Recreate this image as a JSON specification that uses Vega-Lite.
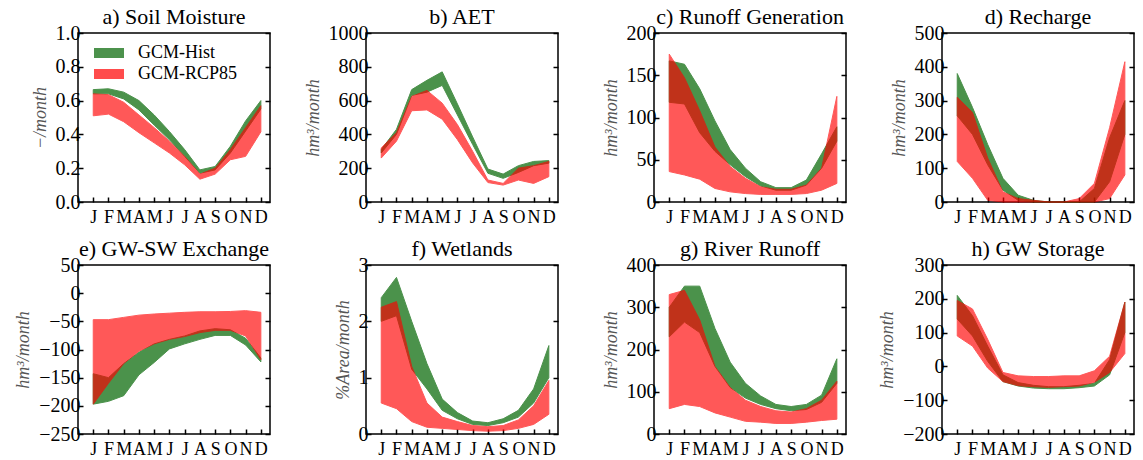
{
"$schema":"https://vega.github.io/schema/vega-lite/v6.json",
"autosize":{"type":"pad"},
"padding":{"left":13,"top":5,"right":0,"bottom":0},
"background":"white",
"bounds":"flush",
"columns":4,
"spacing":{"row":63,"column":96},
"resolve":{"scale":{"color":"independent"},"legend":{"color":"independent"}},
"config":{
 "font":"Liberation Serif",
 "view":{"stroke":"black","strokeWidth":1.5},
 "title":{"font":"Liberation Serif","fontSize":22,"fontWeight":"normal","color":"black","offset":-6,"frame":"group","anchor":"middle"},
 "axis":{"grid":false,"domain":false,"tickColor":"black","tickWidth":1.5,"tickSize":-5,"labelFont":"Liberation Serif","labelColor":"black","titleFont":"Liberation Serif","titleFontStyle":"italic","titleFontWeight":"normal","titleFontSize":18,"titleColor":"#555555","titlePadding":6},
 "axisX":{"labelFontSize":18,"labelPadding":11,"labelOverlap":false},
 "axisY":{"labelFontSize":20,"labelPadding":3},
 "legend":{"labelFont":"Liberation Serif","labelFontSize":18,"labelColor":"black"}
},
"data":{"values":[
{"p":"a","s":"GCM-Hist","m":1,"hi":0.665,"lo":0.64},{"p":"a","s":"GCM-Hist","m":2,"hi":0.67,"lo":0.64},{"p":"a","s":"GCM-Hist","m":3,"hi":0.65,"lo":0.61},{"p":"a","s":"GCM-Hist","m":4,"hi":0.6,"lo":0.545},{"p":"a","s":"GCM-Hist","m":5,"hi":0.515,"lo":0.455},{"p":"a","s":"GCM-Hist","m":6,"hi":0.417,"lo":0.368},{"p":"a","s":"GCM-Hist","m":7,"hi":0.31,"lo":0.27},{"p":"a","s":"GCM-Hist","m":8,"hi":0.19,"lo":0.17},{"p":"a","s":"GCM-Hist","m":9,"hi":0.21,"lo":0.19},{"p":"a","s":"GCM-Hist","m":10,"hi":0.33,"lo":0.29},{"p":"a","s":"GCM-Hist","m":11,"hi":0.48,"lo":0.42},{"p":"a","s":"GCM-Hist","m":12,"hi":0.6,"lo":0.55},
{"p":"a","s":"GCM-RCP85","m":1,"hi":0.64,"lo":0.51},{"p":"a","s":"GCM-RCP85","m":2,"hi":0.635,"lo":0.52},{"p":"a","s":"GCM-RCP85","m":3,"hi":0.59,"lo":0.475},{"p":"a","s":"GCM-RCP85","m":4,"hi":0.515,"lo":0.41},{"p":"a","s":"GCM-RCP85","m":5,"hi":0.44,"lo":0.35},{"p":"a","s":"GCM-RCP85","m":6,"hi":0.36,"lo":0.29},{"p":"a","s":"GCM-RCP85","m":7,"hi":0.27,"lo":0.22},{"p":"a","s":"GCM-RCP85","m":8,"hi":0.165,"lo":0.135},{"p":"a","s":"GCM-RCP85","m":9,"hi":0.2,"lo":0.165},{"p":"a","s":"GCM-RCP85","m":10,"hi":0.31,"lo":0.25},{"p":"a","s":"GCM-RCP85","m":11,"hi":0.44,"lo":0.27},{"p":"a","s":"GCM-RCP85","m":12,"hi":0.57,"lo":0.415},
{"p":"b","s":"GCM-Hist","m":1,"hi":310,"lo":290},{"p":"b","s":"GCM-Hist","m":2,"hi":430,"lo":400},{"p":"b","s":"GCM-Hist","m":3,"hi":665,"lo":630},{"p":"b","s":"GCM-Hist","m":4,"hi":720,"lo":650},{"p":"b","s":"GCM-Hist","m":5,"hi":770,"lo":690},{"p":"b","s":"GCM-Hist","m":6,"hi":580,"lo":515},{"p":"b","s":"GCM-Hist","m":7,"hi":385,"lo":340},{"p":"b","s":"GCM-Hist","m":8,"hi":195,"lo":170},{"p":"b","s":"GCM-Hist","m":9,"hi":165,"lo":140},{"p":"b","s":"GCM-Hist","m":10,"hi":215,"lo":175},{"p":"b","s":"GCM-Hist","m":11,"hi":240,"lo":215},{"p":"b","s":"GCM-Hist","m":12,"hi":245,"lo":230},
{"p":"b","s":"GCM-RCP85","m":1,"hi":320,"lo":260},{"p":"b","s":"GCM-RCP85","m":2,"hi":410,"lo":360},{"p":"b","s":"GCM-RCP85","m":3,"hi":625,"lo":540},{"p":"b","s":"GCM-RCP85","m":4,"hi":660,"lo":545},{"p":"b","s":"GCM-RCP85","m":5,"hi":585,"lo":490},{"p":"b","s":"GCM-RCP85","m":6,"hi":458,"lo":369},{"p":"b","s":"GCM-RCP85","m":7,"hi":300,"lo":231},{"p":"b","s":"GCM-RCP85","m":8,"hi":130,"lo":115},{"p":"b","s":"GCM-RCP85","m":9,"hi":110,"lo":100},{"p":"b","s":"GCM-RCP85","m":10,"hi":200,"lo":130},{"p":"b","s":"GCM-RCP85","m":11,"hi":215,"lo":110},{"p":"b","s":"GCM-RCP85","m":12,"hi":240,"lo":150},
{"p":"c","s":"GCM-Hist","m":1,"hi":167,"lo":118},{"p":"c","s":"GCM-Hist","m":2,"hi":163,"lo":116},{"p":"c","s":"GCM-Hist","m":3,"hi":134,"lo":82},{"p":"c","s":"GCM-Hist","m":4,"hi":96,"lo":60},{"p":"c","s":"GCM-Hist","m":5,"hi":62,"lo":44},{"p":"c","s":"GCM-Hist","m":6,"hi":40,"lo":30},{"p":"c","s":"GCM-Hist","m":7,"hi":24,"lo":19},{"p":"c","s":"GCM-Hist","m":8,"hi":17,"lo":14},{"p":"c","s":"GCM-Hist","m":9,"hi":17,"lo":14},{"p":"c","s":"GCM-Hist","m":10,"hi":26,"lo":20},{"p":"c","s":"GCM-Hist","m":11,"hi":57,"lo":40},{"p":"c","s":"GCM-Hist","m":12,"hi":89,"lo":72},
{"p":"c","s":"GCM-RCP85","m":1,"hi":175,"lo":36},{"p":"c","s":"GCM-RCP85","m":2,"hi":147,"lo":32},{"p":"c","s":"GCM-RCP85","m":3,"hi":108,"lo":27},{"p":"c","s":"GCM-RCP85","m":4,"hi":65,"lo":16},{"p":"c","s":"GCM-RCP85","m":5,"hi":42,"lo":12},{"p":"c","s":"GCM-RCP85","m":6,"hi":28,"lo":10},{"p":"c","s":"GCM-RCP85","m":7,"hi":18,"lo":9},{"p":"c","s":"GCM-RCP85","m":8,"hi":15,"lo":9},{"p":"c","s":"GCM-RCP85","m":9,"hi":15,"lo":9},{"p":"c","s":"GCM-RCP85","m":10,"hi":20,"lo":10},{"p":"c","s":"GCM-RCP85","m":11,"hi":40,"lo":14},{"p":"c","s":"GCM-RCP85","m":12,"hi":125,"lo":22},
{"p":"d","s":"GCM-Hist","m":1,"hi":380,"lo":255},{"p":"d","s":"GCM-Hist","m":2,"hi":280,"lo":200},{"p":"d","s":"GCM-Hist","m":3,"hi":170,"lo":110},{"p":"d","s":"GCM-Hist","m":4,"hi":70,"lo":35},{"p":"d","s":"GCM-Hist","m":5,"hi":20,"lo":5},{"p":"d","s":"GCM-Hist","m":6,"hi":5,"lo":0},{"p":"d","s":"GCM-Hist","m":7,"hi":0,"lo":0},{"p":"d","s":"GCM-Hist","m":8,"hi":0,"lo":0},{"p":"d","s":"GCM-Hist","m":9,"hi":0,"lo":0},{"p":"d","s":"GCM-Hist","m":10,"hi":40,"lo":0},{"p":"d","s":"GCM-Hist","m":11,"hi":190,"lo":60},{"p":"d","s":"GCM-Hist","m":12,"hi":300,"lo":200},
{"p":"d","s":"GCM-RCP85","m":1,"hi":310,"lo":120},{"p":"d","s":"GCM-RCP85","m":2,"hi":265,"lo":70},{"p":"d","s":"GCM-RCP85","m":3,"hi":130,"lo":5},{"p":"d","s":"GCM-RCP85","m":4,"hi":30,"lo":0},{"p":"d","s":"GCM-RCP85","m":5,"hi":10,"lo":0},{"p":"d","s":"GCM-RCP85","m":6,"hi":5,"lo":0},{"p":"d","s":"GCM-RCP85","m":7,"hi":0,"lo":0},{"p":"d","s":"GCM-RCP85","m":8,"hi":0,"lo":0},{"p":"d","s":"GCM-RCP85","m":9,"hi":10,"lo":0},{"p":"d","s":"GCM-RCP85","m":10,"hi":55,"lo":0},{"p":"d","s":"GCM-RCP85","m":11,"hi":220,"lo":10},{"p":"d","s":"GCM-RCP85","m":12,"hi":415,"lo":80},
{"p":"e","s":"GCM-Hist","m":1,"hi":-143,"lo":-197},{"p":"e","s":"GCM-Hist","m":2,"hi":-150,"lo":-192},{"p":"e","s":"GCM-Hist","m":3,"hi":-125,"lo":-182},{"p":"e","s":"GCM-Hist","m":4,"hi":-105,"lo":-145},{"p":"e","s":"GCM-Hist","m":5,"hi":-90,"lo":-123},{"p":"e","s":"GCM-Hist","m":6,"hi":-82,"lo":-99},{"p":"e","s":"GCM-Hist","m":7,"hi":-76,"lo":-90},{"p":"e","s":"GCM-Hist","m":8,"hi":-67,"lo":-82},{"p":"e","s":"GCM-Hist","m":9,"hi":-63,"lo":-75},{"p":"e","s":"GCM-Hist","m":10,"hi":-65,"lo":-75},{"p":"e","s":"GCM-Hist","m":11,"hi":-80,"lo":-92},{"p":"e","s":"GCM-Hist","m":12,"hi":-115,"lo":-122},
{"p":"e","s":"GCM-RCP85","m":1,"hi":-47,"lo":-197},{"p":"e","s":"GCM-RCP85","m":2,"hi":-47,"lo":-160},{"p":"e","s":"GCM-RCP85","m":3,"hi":-43,"lo":-125},{"p":"e","s":"GCM-RCP85","m":4,"hi":-39,"lo":-103},{"p":"e","s":"GCM-RCP85","m":5,"hi":-37,"lo":-90},{"p":"e","s":"GCM-RCP85","m":6,"hi":-35.5,"lo":-82},{"p":"e","s":"GCM-RCP85","m":7,"hi":-34,"lo":-77},{"p":"e","s":"GCM-RCP85","m":8,"hi":-33,"lo":-70},{"p":"e","s":"GCM-RCP85","m":9,"hi":-33,"lo":-66},{"p":"e","s":"GCM-RCP85","m":10,"hi":-32.5,"lo":-66},{"p":"e","s":"GCM-RCP85","m":11,"hi":-31,"lo":-76},{"p":"e","s":"GCM-RCP85","m":12,"hi":-34,"lo":-118},
{"p":"f","s":"GCM-Hist","m":1,"hi":2.42,"lo":2.0},{"p":"f","s":"GCM-Hist","m":2,"hi":2.78,"lo":2.1},{"p":"f","s":"GCM-Hist","m":3,"hi":2.0,"lo":1.15},{"p":"f","s":"GCM-Hist","m":4,"hi":1.25,"lo":0.8},{"p":"f","s":"GCM-Hist","m":5,"hi":0.62,"lo":0.42},{"p":"f","s":"GCM-Hist","m":6,"hi":0.38,"lo":0.27},{"p":"f","s":"GCM-Hist","m":7,"hi":0.23,"lo":0.17},{"p":"f","s":"GCM-Hist","m":8,"hi":0.2,"lo":0.15},{"p":"f","s":"GCM-Hist","m":9,"hi":0.27,"lo":0.2},{"p":"f","s":"GCM-Hist","m":10,"hi":0.42,"lo":0.3},{"p":"f","s":"GCM-Hist","m":11,"hi":0.8,"lo":0.55},{"p":"f","s":"GCM-Hist","m":12,"hi":1.57,"lo":1.0},
{"p":"f","s":"GCM-RCP85","m":1,"hi":2.25,"lo":0.55},{"p":"f","s":"GCM-RCP85","m":2,"hi":2.35,"lo":0.45},{"p":"f","s":"GCM-RCP85","m":3,"hi":1.2,"lo":0.22},{"p":"f","s":"GCM-RCP85","m":4,"hi":0.55,"lo":0.12},{"p":"f","s":"GCM-RCP85","m":5,"hi":0.3,"lo":0.1},{"p":"f","s":"GCM-RCP85","m":6,"hi":0.22,"lo":0.08},{"p":"f","s":"GCM-RCP85","m":7,"hi":0.15,"lo":0.06},{"p":"f","s":"GCM-RCP85","m":8,"hi":0.13,"lo":0.05},{"p":"f","s":"GCM-RCP85","m":9,"hi":0.15,"lo":0.06},{"p":"f","s":"GCM-RCP85","m":10,"hi":0.25,"lo":0.1},{"p":"f","s":"GCM-RCP85","m":11,"hi":0.5,"lo":0.17},{"p":"f","s":"GCM-RCP85","m":12,"hi":0.95,"lo":0.35},
{"p":"g","s":"GCM-Hist","m":1,"hi":300,"lo":230},{"p":"g","s":"GCM-Hist","m":2,"hi":350,"lo":265},{"p":"g","s":"GCM-Hist","m":3,"hi":350,"lo":240},{"p":"g","s":"GCM-Hist","m":4,"hi":250,"lo":160},{"p":"g","s":"GCM-Hist","m":5,"hi":170,"lo":110},{"p":"g","s":"GCM-Hist","m":6,"hi":120,"lo":85},{"p":"g","s":"GCM-Hist","m":7,"hi":90,"lo":70},{"p":"g","s":"GCM-Hist","m":8,"hi":70,"lo":60},{"p":"g","s":"GCM-Hist","m":9,"hi":65,"lo":55},{"p":"g","s":"GCM-Hist","m":10,"hi":70,"lo":58},{"p":"g","s":"GCM-Hist","m":11,"hi":92,"lo":75},{"p":"g","s":"GCM-Hist","m":12,"hi":178,"lo":120},
{"p":"g","s":"GCM-RCP85","m":1,"hi":330,"lo":60},{"p":"g","s":"GCM-RCP85","m":2,"hi":340,"lo":70},{"p":"g","s":"GCM-RCP85","m":3,"hi":270,"lo":65},{"p":"g","s":"GCM-RCP85","m":4,"hi":160,"lo":50},{"p":"g","s":"GCM-RCP85","m":5,"hi":110,"lo":40},{"p":"g","s":"GCM-RCP85","m":6,"hi":80,"lo":30},{"p":"g","s":"GCM-RCP85","m":7,"hi":65,"lo":28},{"p":"g","s":"GCM-RCP85","m":8,"hi":55,"lo":25},{"p":"g","s":"GCM-RCP85","m":9,"hi":52,"lo":25},{"p":"g","s":"GCM-RCP85","m":10,"hi":60,"lo":28},{"p":"g","s":"GCM-RCP85","m":11,"hi":80,"lo":32},{"p":"g","s":"GCM-RCP85","m":12,"hi":125,"lo":35},
{"p":"h","s":"GCM-Hist","m":1,"hi":210,"lo":140},{"p":"h","s":"GCM-Hist","m":2,"hi":150,"lo":90},{"p":"h","s":"GCM-Hist","m":3,"hi":60,"lo":15},{"p":"h","s":"GCM-Hist","m":4,"hi":-25,"lo":-45},{"p":"h","s":"GCM-Hist","m":5,"hi":-48,"lo":-58},{"p":"h","s":"GCM-Hist","m":6,"hi":-56,"lo":-64},{"p":"h","s":"GCM-Hist","m":7,"hi":-60,"lo":-66},{"p":"h","s":"GCM-Hist","m":8,"hi":-60,"lo":-66},{"p":"h","s":"GCM-Hist","m":9,"hi":-56,"lo":-63},{"p":"h","s":"GCM-Hist","m":10,"hi":-50,"lo":-58},{"p":"h","s":"GCM-Hist","m":11,"hi":20,"lo":-25},{"p":"h","s":"GCM-Hist","m":12,"hi":190,"lo":100},
{"p":"h","s":"GCM-RCP85","m":1,"hi":195,"lo":90},{"p":"h","s":"GCM-RCP85","m":2,"hi":170,"lo":60},{"p":"h","s":"GCM-RCP85","m":3,"hi":80,"lo":-5},{"p":"h","s":"GCM-RCP85","m":4,"hi":-18,"lo":-45},{"p":"h","s":"GCM-RCP85","m":5,"hi":-28,"lo":-57},{"p":"h","s":"GCM-RCP85","m":6,"hi":-30,"lo":-60},{"p":"h","s":"GCM-RCP85","m":7,"hi":-30,"lo":-62},{"p":"h","s":"GCM-RCP85","m":8,"hi":-28,"lo":-60},{"p":"h","s":"GCM-RCP85","m":9,"hi":-28,"lo":-58},{"p":"h","s":"GCM-RCP85","m":10,"hi":-13,"lo":-47},{"p":"h","s":"GCM-RCP85","m":11,"hi":30,"lo":-18},{"p":"h","s":"GCM-RCP85","m":12,"hi":190,"lo":38}
]},
"concat":[
{"width":192,"height":169,"title":"a) Soil Moisture","transform":[{"filter":"datum.p=='a'"}],"resolve":{"axis":{"y":"independent"}},
 "encoding":{"x":{"field":"m","type":"quantitative","scale":{"domain":[0,12.6]},"axis":{"values":[1,2,3,4,5,6,7,8,9,10,11,12],"labelExpr":"['J','F','M','A','M','J','J','A','S','O','N','D'][datum.value-1]","title":null}},
  "y2":{"field":"lo"},
  "color":{"field":"s","type":"nominal","scale":{"domain":["GCM-Hist","GCM-RCP85"],"range":["#006400","#ff0000"]},"legend":{"orient":"none","legendX":22,"legendY":11,"title":null,"padding":0,"symbolType":"M-3,-1H3V1H-3Z","symbolSize":100,"labelOffset":20,"rowPadding":3,"symbolStrokeWidth":0}}},
 "layer":[
  {"transform":[{"filter":"datum.s=='GCM-Hist'"}],"mark":{"type":"area","opacity":0.7,"stroke":"#006400","strokeWidth":1},"encoding":{"y":{"field":"hi","type":"quantitative","scale":{"domain":[0,1],"nice":false,"zero":false},"axis":{"orient":"left","values":[0,0.2,0.4,0.6,0.8,1.0],"format":".1f","title":"−/month"}}}},
  {"transform":[{"filter":"datum.s=='GCM-RCP85'"}],"mark":{"type":"area","opacity":0.65,"stroke":"#ff0000","strokeWidth":1},"encoding":{"y":{"field":"hi","type":"quantitative","scale":{"domain":[0,1],"nice":false,"zero":false},"axis":{"orient":"right","values":[0,0.2,0.4,0.6,0.8,1.0],"labels":false,"title":null}}}}
 ]},
{"width":192,"height":169,"title":"b) AET","transform":[{"filter":"datum.p=='b'"}],"resolve":{"axis":{"y":"independent"}},
 "encoding":{"x":{"field":"m","type":"quantitative","scale":{"domain":[0,12.6]},"axis":{"values":[1,2,3,4,5,6,7,8,9,10,11,12],"labelExpr":"['J','F','M','A','M','J','J','A','S','O','N','D'][datum.value-1]","title":null}},
  "y2":{"field":"lo"},
  "color":{"field":"s","type":"nominal","scale":{"domain":["GCM-Hist","GCM-RCP85"],"range":["#006400","#ff0000"]},"legend":null}},
 "layer":[
  {"transform":[{"filter":"datum.s=='GCM-Hist'"}],"mark":{"type":"area","opacity":0.7,"stroke":"#006400","strokeWidth":1},"encoding":{"y":{"field":"hi","type":"quantitative","scale":{"domain":[0,1000],"nice":false,"zero":false},"axis":{"orient":"left","values":[0,200,400,600,800,1000],"format":"d","title":"hm³/month"}}}},
  {"transform":[{"filter":"datum.s=='GCM-RCP85'"}],"mark":{"type":"area","opacity":0.65,"stroke":"#ff0000","strokeWidth":1},"encoding":{"y":{"field":"hi","type":"quantitative","scale":{"domain":[0,1000],"nice":false,"zero":false},"axis":{"orient":"right","values":[0,200,400,600,800,1000],"labels":false,"title":null}}}}
 ]},
{"width":192,"height":169,"title":"c) Runoff Generation","transform":[{"filter":"datum.p=='c'"}],"resolve":{"axis":{"y":"independent"}},
 "encoding":{"x":{"field":"m","type":"quantitative","scale":{"domain":[0,12.6]},"axis":{"values":[1,2,3,4,5,6,7,8,9,10,11,12],"labelExpr":"['J','F','M','A','M','J','J','A','S','O','N','D'][datum.value-1]","title":null}},
  "y2":{"field":"lo"},
  "color":{"field":"s","type":"nominal","scale":{"domain":["GCM-Hist","GCM-RCP85"],"range":["#006400","#ff0000"]},"legend":null}},
 "layer":[
  {"transform":[{"filter":"datum.s=='GCM-Hist'"}],"mark":{"type":"area","opacity":0.7,"stroke":"#006400","strokeWidth":1},"encoding":{"y":{"field":"hi","type":"quantitative","scale":{"domain":[0,200],"nice":false,"zero":false},"axis":{"orient":"left","values":[0,50,100,150,200],"format":"d","title":"hm³/month"}}}},
  {"transform":[{"filter":"datum.s=='GCM-RCP85'"}],"mark":{"type":"area","opacity":0.65,"stroke":"#ff0000","strokeWidth":1},"encoding":{"y":{"field":"hi","type":"quantitative","scale":{"domain":[0,200],"nice":false,"zero":false},"axis":{"orient":"right","values":[0,50,100,150,200],"labels":false,"title":null}}}}
 ]},
{"width":192,"height":169,"title":"d) Recharge","transform":[{"filter":"datum.p=='d'"}],"resolve":{"axis":{"y":"independent"}},
 "encoding":{"x":{"field":"m","type":"quantitative","scale":{"domain":[0,12.6]},"axis":{"values":[1,2,3,4,5,6,7,8,9,10,11,12],"labelExpr":"['J','F','M','A','M','J','J','A','S','O','N','D'][datum.value-1]","title":null}},
  "y2":{"field":"lo"},
  "color":{"field":"s","type":"nominal","scale":{"domain":["GCM-Hist","GCM-RCP85"],"range":["#006400","#ff0000"]},"legend":null}},
 "layer":[
  {"transform":[{"filter":"datum.s=='GCM-Hist'"}],"mark":{"type":"area","opacity":0.7,"stroke":"#006400","strokeWidth":1},"encoding":{"y":{"field":"hi","type":"quantitative","scale":{"domain":[0,500],"nice":false,"zero":false},"axis":{"orient":"left","values":[0,100,200,300,400,500],"format":"d","title":"hm³/month"}}}},
  {"transform":[{"filter":"datum.s=='GCM-RCP85'"}],"mark":{"type":"area","opacity":0.65,"stroke":"#ff0000","strokeWidth":1},"encoding":{"y":{"field":"hi","type":"quantitative","scale":{"domain":[0,500],"nice":false,"zero":false},"axis":{"orient":"right","values":[0,100,200,300,400,500],"labels":false,"title":null}}}}
 ]},
{"width":192,"height":169,"title":"e) GW-SW Exchange","transform":[{"filter":"datum.p=='e'"}],"resolve":{"axis":{"y":"independent"}},
 "encoding":{"x":{"field":"m","type":"quantitative","scale":{"domain":[0,12.6]},"axis":{"values":[1,2,3,4,5,6,7,8,9,10,11,12],"labelExpr":"['J','F','M','A','M','J','J','A','S','O','N','D'][datum.value-1]","title":null}},
  "y2":{"field":"lo"},
  "color":{"field":"s","type":"nominal","scale":{"domain":["GCM-Hist","GCM-RCP85"],"range":["#006400","#ff0000"]},"legend":null}},
 "layer":[
  {"transform":[{"filter":"datum.s=='GCM-Hist'"}],"mark":{"type":"area","opacity":0.7,"stroke":"#006400","strokeWidth":1},"encoding":{"y":{"field":"hi","type":"quantitative","scale":{"domain":[-250,50],"nice":false,"zero":false},"axis":{"orient":"left","values":[-250,-200,-150,-100,-50,0,50],"format":"d","title":"hm³/month"}}}},
  {"transform":[{"filter":"datum.s=='GCM-RCP85'"}],"mark":{"type":"area","opacity":0.65,"stroke":"#ff0000","strokeWidth":1},"encoding":{"y":{"field":"hi","type":"quantitative","scale":{"domain":[-250,50],"nice":false,"zero":false},"axis":{"orient":"right","values":[-250,-200,-150,-100,-50,0,50],"labels":false,"title":null}}}}
 ]},
{"width":192,"height":169,"title":"f) Wetlands","transform":[{"filter":"datum.p=='f'"}],"resolve":{"axis":{"y":"independent"}},
 "encoding":{"x":{"field":"m","type":"quantitative","scale":{"domain":[0,12.6]},"axis":{"values":[1,2,3,4,5,6,7,8,9,10,11,12],"labelExpr":"['J','F','M','A','M','J','J','A','S','O','N','D'][datum.value-1]","title":null}},
  "y2":{"field":"lo"},
  "color":{"field":"s","type":"nominal","scale":{"domain":["GCM-Hist","GCM-RCP85"],"range":["#006400","#ff0000"]},"legend":null}},
 "layer":[
  {"transform":[{"filter":"datum.s=='GCM-Hist'"}],"mark":{"type":"area","opacity":0.7,"stroke":"#006400","strokeWidth":1},"encoding":{"y":{"field":"hi","type":"quantitative","scale":{"domain":[0,3],"nice":false,"zero":false},"axis":{"orient":"left","values":[0,1,2,3],"format":"d","title":"%Area/month"}}}},
  {"transform":[{"filter":"datum.s=='GCM-RCP85'"}],"mark":{"type":"area","opacity":0.65,"stroke":"#ff0000","strokeWidth":1},"encoding":{"y":{"field":"hi","type":"quantitative","scale":{"domain":[0,3],"nice":false,"zero":false},"axis":{"orient":"right","values":[0,1,2,3],"labels":false,"title":null}}}}
 ]},
{"width":192,"height":169,"title":"g) River Runoff","transform":[{"filter":"datum.p=='g'"}],"resolve":{"axis":{"y":"independent"}},
 "encoding":{"x":{"field":"m","type":"quantitative","scale":{"domain":[0,12.6]},"axis":{"values":[1,2,3,4,5,6,7,8,9,10,11,12],"labelExpr":"['J','F','M','A','M','J','J','A','S','O','N','D'][datum.value-1]","title":null}},
  "y2":{"field":"lo"},
  "color":{"field":"s","type":"nominal","scale":{"domain":["GCM-Hist","GCM-RCP85"],"range":["#006400","#ff0000"]},"legend":null}},
 "layer":[
  {"transform":[{"filter":"datum.s=='GCM-Hist'"}],"mark":{"type":"area","opacity":0.7,"stroke":"#006400","strokeWidth":1},"encoding":{"y":{"field":"hi","type":"quantitative","scale":{"domain":[0,400],"nice":false,"zero":false},"axis":{"orient":"left","values":[0,100,200,300,400],"format":"d","title":"hm³/month"}}}},
  {"transform":[{"filter":"datum.s=='GCM-RCP85'"}],"mark":{"type":"area","opacity":0.65,"stroke":"#ff0000","strokeWidth":1},"encoding":{"y":{"field":"hi","type":"quantitative","scale":{"domain":[0,400],"nice":false,"zero":false},"axis":{"orient":"right","values":[0,100,200,300,400],"labels":false,"title":null}}}}
 ]},
{"width":192,"height":169,"title":"h) GW Storage","transform":[{"filter":"datum.p=='h'"}],"resolve":{"axis":{"y":"independent"}},
 "encoding":{"x":{"field":"m","type":"quantitative","scale":{"domain":[0,12.6]},"axis":{"values":[1,2,3,4,5,6,7,8,9,10,11,12],"labelExpr":"['J','F','M','A','M','J','J','A','S','O','N','D'][datum.value-1]","title":null}},
  "y2":{"field":"lo"},
  "color":{"field":"s","type":"nominal","scale":{"domain":["GCM-Hist","GCM-RCP85"],"range":["#006400","#ff0000"]},"legend":null}},
 "layer":[
  {"transform":[{"filter":"datum.s=='GCM-Hist'"}],"mark":{"type":"area","opacity":0.7,"stroke":"#006400","strokeWidth":1},"encoding":{"y":{"field":"hi","type":"quantitative","scale":{"domain":[-200,300],"nice":false,"zero":false},"axis":{"orient":"left","values":[-200,-100,0,100,200,300],"format":"d","title":"hm³/month"}}}},
  {"transform":[{"filter":"datum.s=='GCM-RCP85'"}],"mark":{"type":"area","opacity":0.65,"stroke":"#ff0000","strokeWidth":1},"encoding":{"y":{"field":"hi","type":"quantitative","scale":{"domain":[-200,300],"nice":false,"zero":false},"axis":{"orient":"right","values":[-200,-100,0,100,200,300],"labels":false,"title":null}}}}
 ]}
]
}
